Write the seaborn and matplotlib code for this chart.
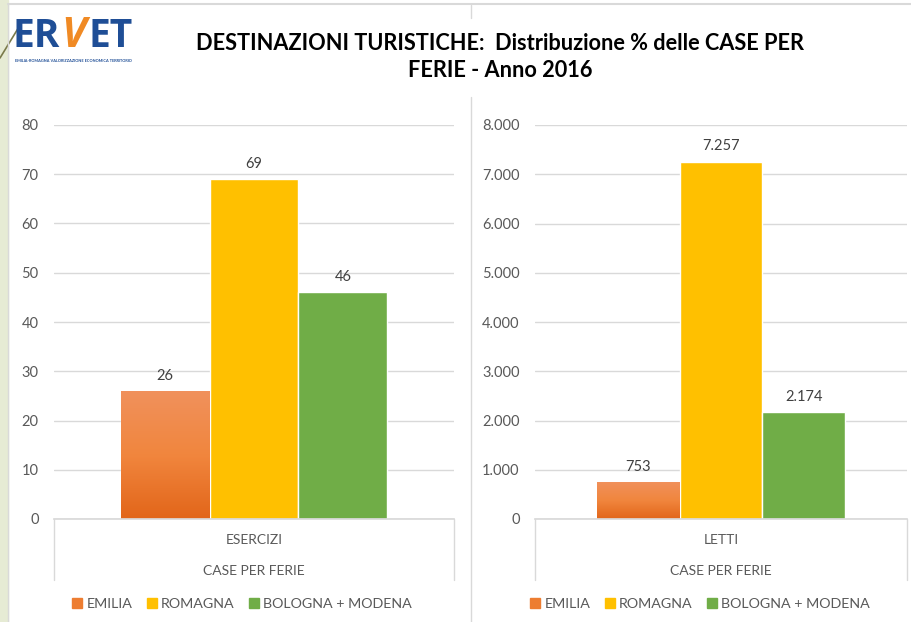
import numpy as np
import pandas as pd
import seaborn as sns
import matplotlib.pyplot as plt
from matplotlib.lines import Line2D
from matplotlib.colors import LinearSegmentedColormap

sns.set_theme(style="white")
plt.rcParams['font.family'] = ['Lato', 'DejaVu Sans']

# data
regioni = ['EMILIA', 'ROMAGNA', 'BOLOGNA + MODENA']
esercizi = [26, 69, 46]
letti = [753, 7257, 2174]
colori = ['#ED7D31', '#FFC000', '#70AD47']
titolo = 'DESTINAZIONI TURISTICHE:  Distribuzione % delle CASE PER\nFERIE - Anno 2016'

df_es = pd.DataFrame({'cat': 'ESERCIZI', 'regione': regioni, 'valore': esercizi})
df_le = pd.DataFrame({'cat': 'LETTI', 'regione': regioni, 'valore': letti})

W, H = 911, 622
fig = plt.figure(figsize=(W / 100, H / 100), dpi=100)
fig.patch.set_facecolor('white')

def px(x0, y0, x1, y1):
    # pixel box (top-left origin) -> figure fraction rect
    return [x0 / W, 1 - y1 / H, (x1 - x0) / W, (y1 - y0) / H]

# slide decoration: green strip, border lines
bg = fig.add_axes([0, 0, 1, 1], zorder=-5)
bg.set_xlim(0, W)
bg.set_ylim(H, 0)
bg.axis('off')
bg.axvspan(0, 8, color='#E6EBD4')
bg.plot([0, 22], [58, 22], color='#7A7A4A', lw=1.2)
bg.plot([8, W], [4, 4], color='#D9D9D9', lw=1.5)
bg.plot([8, 8], [4, H], color='#D9D9D9', lw=1)
bg.plot([471, 471], [5, 18], color='#D9D9D9', lw=1)
bg.plot([471, 471], [97, H], color='#D9D9D9', lw=1)

# logo
fig.text(13 / W, 1 - 47 / H, 'ER', color='#1F4E96', fontsize=28, fontweight='bold', family='Open Sans')
fig.text(61 / W, 1 - 47 / H, 'V', color='#F08A24', fontsize=30, fontweight='bold', family='Open Sans', style='italic')
fig.text(89 / W, 1 - 47 / H, 'ET', color='#1F4E96', fontsize=28, fontweight='bold', family='Open Sans')
fig.text(15 / W, 1 - 59 / H, 'EMILIA-ROMAGNA VALORIZZAZIONE ECONOMICA TERRITORIO',
         color='#1F4E96', fontsize=2.8, fontweight='bold', va='top')

fig.text(500 / W, 1 - 57 / H, titolo, ha='center', va='center', fontsize=15.7,
         fontweight='bold', color='#000000', linespacing=1.35)

grid_c = '#D9D9D9'
txt_c = '#595959'
grad = LinearSegmentedColormap.from_list('em', ['#E2661A', '#F1863E', '#F0915C'])


def pannello(rect, df, ymax, step, fmt, cat, leg_x):
    ax = fig.add_axes(rect)
    sns.barplot(data=df, x='cat', y='valore', hue='regione', palette=colori,
                width=0.667, gap=0, saturation=1, ax=ax, legend=False)
    ax.set_xlim(-0.5, 0.5)
    ax.set_ylim(0, ymax)
    ax.set_yticks(np.arange(0, ymax + 1, step))
    ax.set_yticklabels([fmt(v) for v in np.arange(0, ymax + 1, step)])
    ax.yaxis.grid(True, color=grid_c, lw=1)
    ax.set_axisbelow(True)
    for s in ['top', 'right', 'left']:
        ax.spines[s].set_visible(False)
    ax.spines['bottom'].set_color(grid_c)
    ax.tick_params(axis='y', length=0, pad=11, labelsize=10.5, labelcolor=txt_c)
    ax.set_xticks([])
    ax.set_xlabel('')
    ax.set_ylabel('')

    # gradient on the first bar
    p = ax.patches[0]
    x0, w, h = p.get_x(), p.get_width(), p.get_height()
    g = np.linspace(0, 1, 100).reshape(-1, 1)
    im = ax.imshow(g, extent=[x0, x0 + w, 0, h], origin='lower', aspect='auto',
                   cmap=grad, zorder=p.get_zorder())
    im.set_clip_path(p)
    ax.set_xlim(-0.5, 0.5)
    ax.set_ylim(0, ymax)

    for c in ax.containers:
        ax.bar_label(c, labels=[fmt(v) for v in c.datavalues], padding=6,
                     fontsize=10.5, color='#404040')

    # category box under the axis
    for xb in [0, 1]:
        ax.add_line(Line2D([xb, xb], [0, -0.155], transform=ax.transAxes,
                           color=grid_c, lw=1, clip_on=False))
    ax.text(0.5, -0.053, cat, transform=ax.transAxes, ha='center', va='center',
            fontsize=10, color=txt_c)
    ax.text(0.5, -0.132, 'CASE PER FERIE', transform=ax.transAxes, ha='center',
            va='center', fontsize=10, color=txt_c)

    handles = [plt.Rectangle((0, 0), 1, 1, color=c) for c in colori]
    ax.legend(handles, regioni, loc='center', bbox_to_anchor=(leg_x, -0.216), ncol=3,
              frameon=False, handlelength=0.7, handleheight=0.7, handletextpad=0.3,
              columnspacing=1.0, fontsize=10.3, labelcolor=txt_c)
    return ax


pannello(px(54, 125, 454, 519), df_es, 80, 10, lambda v: f'{v:.0f}', 'ESERCIZI', 0.47)
pannello(px(535, 125, 907, 519), df_le, 8000, 1000,
         lambda v: f'{v:,.0f}'.replace(',', '.'), 'LETTI', 0.444)

fig.savefig('out.png', dpi=100)
